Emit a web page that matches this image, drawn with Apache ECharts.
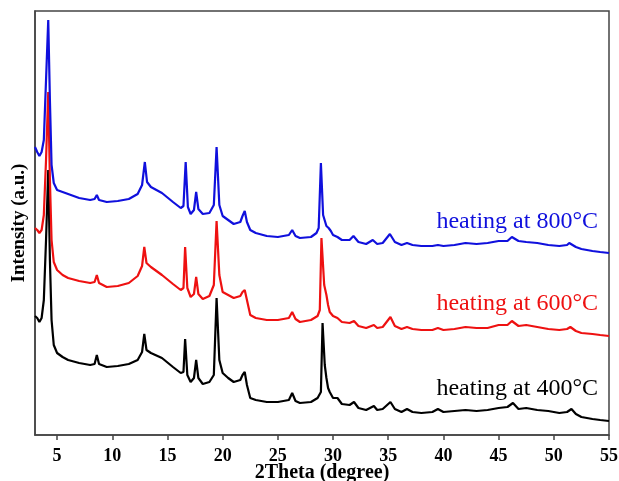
<!DOCTYPE html>
<html>
<head>
<meta charset="utf-8">
<script src="https://cdn.jsdelivr.net/npm/echarts@6/dist/echarts.min.js"></script>
<style>
  html, body { margin: 0; padding: 0; background: #fff; }
  #chart_xrd { width: 619px; height: 481px; }
</style>
</head>
<body>
<div id="chart_xrd"></div>
<script>
// 2Theta ticks on the x axis
var tick_values = [5, 10, 15, 20, 25, 30, 35, 40, 45, 50, 55];

// heating at 400°C (black)
var angle_400 = [3.0, 3.2, 3.4, 3.6, 3.8, 4.0, 4.2, 4.35, 4.5, 4.7, 5.0, 5.5, 6.0, 7.0, 8.0, 8.4, 8.6, 8.8, 9.5, 10.5,
  11.5, 12.3, 12.7, 12.9, 13.1, 13.5, 14.5, 15.5, 16.2, 16.45, 16.6, 16.8, 17.1, 17.4, 17.6, 17.8, 18.2, 18.8, 19.2, 19.45,
  19.7, 20.0, 20.5, 21.0, 21.6, 21.8, 22.0, 22.2, 22.5, 23.0, 24.0, 25.0, 26.0, 26.3, 26.6, 27.0, 28.0, 28.6, 28.9, 29.05,
  29.25, 29.4, 29.55, 29.7, 30.0, 30.4, 30.8, 31.5, 31.9, 32.3, 33.0, 33.7, 34.0, 34.5, 35.2, 35.6, 36.2, 36.7, 37.2, 38.0,
  39.0, 39.5, 40.0, 41.0, 42.0, 43.0, 44.0, 45.0, 45.8, 46.3, 46.8, 47.5, 48.5, 49.5, 50.5, 51.2, 51.6, 52.0, 52.5, 53.5,
  54.2, 55.0];
var inten_400 = [119, 117, 113, 117, 135, 195, 265, 175, 115, 90, 82, 78, 75, 72, 70, 71, 80, 71, 68, 69,
  71, 75, 83, 101, 85, 82, 77, 68, 62, 63, 96, 60, 53, 57, 75, 57, 51, 53, 60, 137,
  75, 62, 57, 53, 55, 60, 63, 50, 37, 35, 33, 33, 35, 42, 34, 32, 33, 37, 43, 112,
  70, 57, 47, 43, 37, 37, 31, 30, 33, 27, 25, 29, 25, 26, 33, 26, 23, 26, 23, 22,
  23, 26, 23, 24, 25, 24, 25, 27, 28, 32, 26, 27, 25, 24, 22, 23, 26, 21, 18, 16,
  15, 14];

// heating at 600°C (red)
var angle_600 = [3.0, 3.2, 3.4, 3.6, 3.8, 4.0, 4.2, 4.35, 4.5, 4.7, 5.0, 5.5, 6.0, 7.0, 8.0, 8.4, 8.6, 8.8, 9.5, 10.5,
  11.5, 12.3, 12.7, 12.9, 13.1, 13.5, 14.5, 15.5, 16.2, 16.45, 16.6, 16.8, 17.1, 17.4, 17.6, 17.8, 18.2, 18.8, 19.2, 19.45,
  19.7, 20.0, 20.5, 21.0, 21.6, 21.8, 22.0, 22.2, 22.5, 23.0, 24.0, 25.0, 26.0, 26.3, 26.6, 27.0, 28.0, 28.6, 28.8, 28.95,
  29.2, 29.4, 29.55, 29.7, 30.0, 30.4, 30.8, 31.5, 31.9, 32.3, 33.0, 33.7, 34.0, 34.5, 35.2, 35.6, 36.2, 36.7, 37.2, 38.0,
  39.0, 39.5, 40.0, 41.0, 42.0, 43.0, 44.0, 45.0, 45.8, 46.2, 46.8, 47.5, 48.5, 49.5, 50.5, 51.2, 51.5, 52.0, 52.5, 53.5,
  54.2, 55.0];
var inten_600 = [207, 205, 202, 205, 220, 275, 343, 255, 195, 173, 165, 160, 157, 154, 152, 153, 160, 152, 148, 149,
  152, 159, 169, 188, 172, 168, 160, 151, 145, 147, 188, 147, 138, 141, 158, 141, 136, 139, 150, 214,
  160, 143, 140, 137, 139, 143, 145, 135, 120, 117, 115, 115, 117, 123, 116, 113, 115, 119, 125, 197,
  150, 140, 130, 123, 119, 117, 113, 112, 114, 109, 107, 110, 107, 108, 118, 109, 106, 108, 106, 105,
  105, 107, 105, 106, 108, 107, 107, 110, 110, 114, 109, 110, 108, 106, 105, 106, 108, 104, 102, 101,
  100, 99];

// heating at 800°C (blue)
var angle_800 = [3.0, 3.2, 3.4, 3.6, 3.8, 4.0, 4.2, 4.35, 4.5, 4.7, 5.0, 5.5, 6.0, 7.0, 8.0, 8.4, 8.6, 8.8, 9.5, 10.5,
  11.5, 12.3, 12.7, 12.95, 13.15, 13.5, 14.5, 15.5, 16.2, 16.45, 16.65, 16.85, 17.1, 17.4, 17.6, 17.8, 18.2, 18.8, 19.2, 19.45,
  19.7, 20.0, 20.5, 21.0, 21.6, 21.8, 22.0, 22.2, 22.5, 23.0, 24.0, 25.0, 26.0, 26.3, 26.6, 27.0, 28.0, 28.5, 28.7, 28.9,
  29.1, 29.4, 29.6, 29.8, 30.0, 30.4, 30.8, 31.5, 31.85, 32.3, 33.0, 33.6, 34.0, 34.5, 35.15, 35.6, 36.2, 36.7, 37.2, 38.0,
  39.0, 39.5, 40.0, 41.0, 42.0, 43.0, 44.0, 45.0, 45.8, 46.2, 46.8, 47.5, 48.5, 49.5, 50.5, 51.2, 51.4, 52.0, 52.5, 53.5,
  54.2, 55.0];
var inten_800 = [288, 283, 279, 283, 295, 355, 415, 335, 270, 252, 245, 243, 241, 237, 235, 236, 240, 235, 233, 234,
  236, 241, 250, 273, 253, 248, 242, 233, 227, 229, 273, 228, 221, 225, 243, 226, 221, 222, 230, 288,
  230, 219, 215, 211, 213, 219, 224, 213, 205, 202, 199, 198, 200, 205, 199, 197, 198, 202, 207, 272,
  220, 209, 207, 204, 200, 198, 195, 195, 199, 193, 191, 195, 191, 192, 201, 193, 190, 192, 190, 189,
  189, 190, 189, 190, 192, 191, 192, 194, 194, 198, 194, 193, 192, 190, 189, 190, 192, 188, 186, 184,
  183, 182];

var series_names = ['heating at 400°C', 'heating at 600°C', 'heating at 800°C'];
var series_colors = ['#000000', '#ee1111', '#1010dd'];

function zipXY(xs, ys){
	return xs.map(function(x, i){ return [x, ys[i]]; });
}

var myChart = echarts.init(document.getElementById('chart_xrd'));
var serif = '"Liberation Serif", "Times New Roman", serif';

var all_data = [zipXY(angle_400, inten_400), zipXY(angle_600, inten_600), zipXY(angle_800, inten_800)];

var option = {
	backgroundColor : '#fff',
	animation : false,
	grid : {
		left : 35, right : 10, top : 11, bottom : 46,
		outerBoundsMode : 'none',
		containLabel : false,
		show : true,
		borderColor : '#444',
		borderWidth : 1.5
	},
	xAxis : {
		type : 'value',
		min : 3, max : 55,
		name : '2Theta (degree)',
		nameLocation : 'middle',
		nameGap : 28,
		nameMoveOverlap : false,
		nameTextStyle : { fontFamily : serif, fontWeight : 'bold', fontSize : 20, color : '#000' },
		axisLine : { lineStyle : { color : '#444', width : 1.5 } },
		axisTick : { show : true, length : 5, customValues : tick_values, lineStyle : { color : '#444', width : 1.5 } },
		axisLabel : { customValues : tick_values, fontFamily : serif, fontWeight : 'bold', fontSize : 18, color : '#000', margin : 12 },
		splitLine : { show : false }
	},
	yAxis : {
		type : 'value',
		min : 0, max : 424,
		name : 'Intensity (a.u.)',
		nameLocation : 'middle',
		nameGap : 6,
		nameTextStyle : { fontFamily : serif, fontWeight : 'bold', fontSize : 19, color : '#000' },
		axisLine : { show : true, lineStyle : { color : '#444', width : 1.5 } },
		axisTick : { show : false },
		axisLabel : { show : false },
		splitLine : { show : false }
	},
	series : all_data.map(function(d, i){
		return {
			name : series_names[i],
			type : 'line',
			data : d,
			showSymbol : false,
			smooth : false,
			lineStyle : { color : series_colors[i], width : 2.2 },
			z : 2 + i
		};
	}),
	graphic : [
		{ type : 'text', right : 21, top : 210, style : { text : series_names[2], fill : series_colors[2], font : '24px ' + serif } },
		{ type : 'text', right : 21, top : 292, style : { text : series_names[1], fill : series_colors[1], font : '24px ' + serif } },
		{ type : 'text', right : 21, top : 377, style : { text : series_names[0], fill : series_colors[0], font : '24px ' + serif } }
	]
};

myChart.setOption(option);
</script>
</body>
</html>
